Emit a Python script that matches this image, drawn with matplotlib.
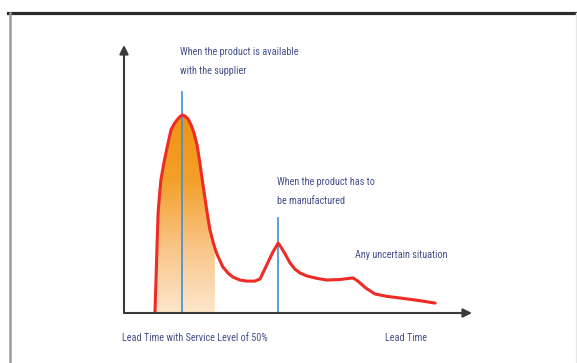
import numpy as np
import matplotlib
matplotlib.use("Agg")
import matplotlib.pyplot as plt
from matplotlib.lines import Line2D
from matplotlib.colors import LinearSegmentedColormap
from matplotlib.patches import Polygon
from matplotlib import font_manager

# ---- data ----
lead_time = [0.89, 0.905, 0.92, 0.95, 0.98, 1.02, 1.06, 1.15, 1.24, 1.35, 1.44, 1.52, 1.61,
             1.68, 1.75, 1.84, 1.93, 2.01, 2.10, 2.18, 2.27, 2.39, 2.47, 2.56, 2.61, 2.67,
             2.84, 2.99, 3.13, 3.33, 3.53, 3.76, 3.91, 4.02, 4.14, 4.28, 4.43, 4.51, 4.63,
             4.77, 4.91, 5.06, 5.26, 5.55, 5.83, 6.21, 6.58, 6.72, 6.95, 7.21, 7.56, 7.93,
             8.45, 8.94]
density = [0.0, 0.067, 0.123, 0.254, 0.373, 0.440, 0.496, 0.563, 0.619, 0.683, 0.705, 0.720,
           0.733, 0.739, 0.735, 0.724, 0.701, 0.672, 0.627, 0.560, 0.478, 0.373, 0.310,
           0.265, 0.243, 0.220, 0.172, 0.149, 0.134, 0.123, 0.119, 0.119, 0.127, 0.157,
           0.190, 0.228, 0.261, 0.246, 0.220, 0.187, 0.164, 0.149, 0.138, 0.129, 0.123,
           0.125, 0.131, 0.119, 0.093, 0.071, 0.062, 0.056, 0.047, 0.037]
service_level_end = 2.61          # lead time reached with service level of 50%
supplier_mode = 1.68              # product available with supplier
manufactured_mode = 4.43          # product has to be manufactured
marker_tops = [0.825, 0.354]

label_supplier = "When the product is available\nwith the supplier"
label_manufactured = "When the product has to\nbe manufactured"
label_uncertain = "Any uncertain situation"
xlabel_left = "Lead Time with Service Level of 50%"
xlabel_right = "Lead Time"

W, H = 577, 363
fig = plt.figure(figsize=(W / 100, H / 100), dpi=100)
fig.patch.set_facecolor("white")

# frame decoration of the original picture
fig.add_artist(Line2D([8 / W, 1], [1 - 13 / H, 1 - 13 / H], color="#2a2a2a", lw=2.3))
fig.add_artist(Line2D([10 / W, 10 / W], [0, 1 - 13 / H], color="#9a9a9a", lw=1.8))
fig.add_artist(Line2D([575.5 / W, 575.5 / W], [0, 1 - 13 / H], color="#e6e6e6", lw=1.0))

# axes box: x from px 124 to 472, y from px 313 (bottom) to 45 (top)
ax = fig.add_axes([124 / W, (H - 313) / H, 348 / W, 268 / H])
ax.set_xlim(0, 10)
ax.set_ylim(0, 1)
ax.axis("off")

x = np.array(lead_time)
y = np.array(density)

# gradient fill under curve up to service level
mask = x <= service_level_end + 1e-9
fx = x[mask]
fy = y[mask]
poly_pts = np.column_stack([np.r_[fx, fx[-1], fx[0]], np.r_[fy, 0, 0]])
poly = Polygon(poly_pts, closed=True, facecolor="none", edgecolor="none")
ax.add_patch(poly)
cmap = LinearSegmentedColormap.from_list("orng", ["#fde6cc", "#f9c586", "#f3a02a", "#ef9212"])
grad = np.linspace(0, 1, 256).reshape(-1, 1)
im = ax.imshow(grad, cmap=cmap, extent=[fx[0], fx[-1], 0, max(fy)], origin="lower",
               aspect="auto", zorder=1)
im.set_clip_path(poly)

# marker lines
blue = "#3f8fd6"
ax.plot([supplier_mode, supplier_mode], [0, marker_tops[0]], color=blue, lw=1.2, zorder=2)
ax.plot([manufactured_mode, manufactured_mode], [0, marker_tops[1]], color=blue, lw=1.2, zorder=2)

# curve
ax.plot(x, y, color="#ee2b24", lw=2.2, solid_joinstyle="round", solid_capstyle="round", zorder=3)

# axes arrows
axcol = "#3a3a3a"
ax.annotate("", xy=(10, 0), xytext=(0, 0), xycoords="data",
            arrowprops=dict(arrowstyle="-|>", color=axcol, lw=1.5, mutation_scale=13,
                            shrinkA=0, shrinkB=0), annotation_clip=False, zorder=4)
ax.annotate("", xy=(0, 1), xytext=(0, 0), xycoords="data",
            arrowprops=dict(arrowstyle="-|>", color=axcol, lw=1.5, mutation_scale=13,
                            shrinkA=0, shrinkB=0), annotation_clip=False, zorder=4)

tcol = "#444f8a"
names = {f.name for f in font_manager.fontManager.ttflist}
fam = [n for n in ["Liberation Sans Narrow", "Roboto Condensed", "Open Sans Condensed",
                   "DejaVu Sans"] if n in names] or ["DejaVu Sans"]
fs = 7.3
tkw = dict(color=tcol, fontsize=fs, family=fam, stretch="condensed", va="center",
           ha="left", clip_on=False)
ax.text(1.61, 0.938, label_supplier, linespacing=2.15, **tkw)
ax.text(4.40, 0.453, label_manufactured, linespacing=2.15, **tkw)
ax.text(6.64, 0.216, label_uncertain, **tkw)
ax.text(-0.06, -0.093, xlabel_left, **tkw)
ax.text(7.5, -0.093, xlabel_right, **tkw)

fig.savefig("out.png", dpi=100, facecolor="white")
